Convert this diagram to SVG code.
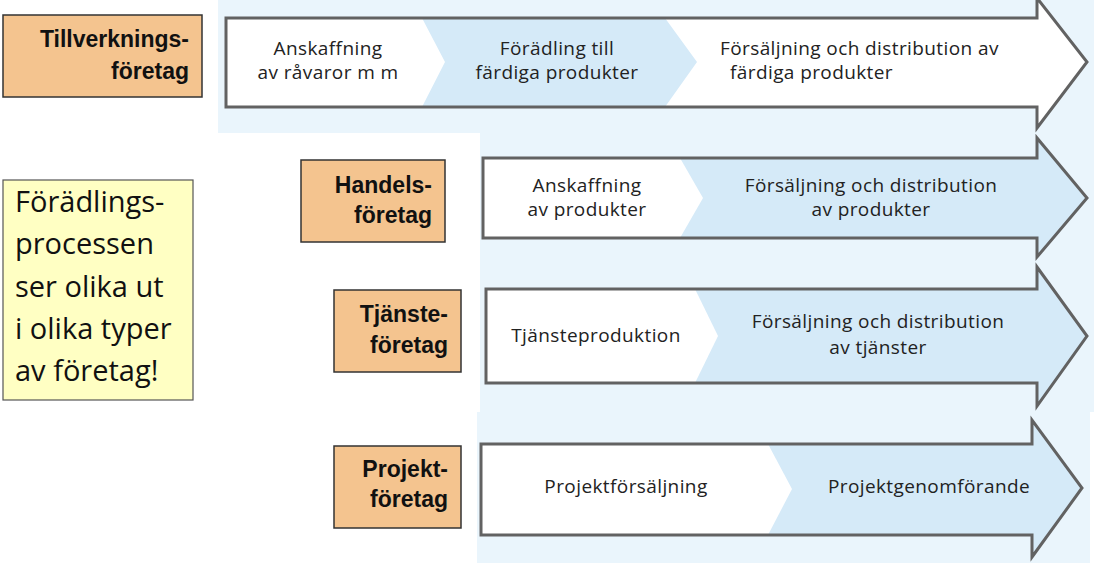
<svg xmlns="http://www.w3.org/2000/svg" width="1094" height="566" viewBox="0 0 1094 566">
<style>
.panel{fill:#eaf5fc}
.outline{fill:none;stroke:#626262;stroke-width:3;stroke-linejoin:miter}
.blue{fill:#d5eaf8}
.white{fill:#ffffff}
.lbl{fill:#f4c48f;stroke:#333;stroke-width:1.5}
.lt{font-family:"Liberation Sans",Arial,sans-serif;font-weight:bold;font-size:23px;fill:#111;text-anchor:end}
.at{font-family:"Open Sans","Noto Sans",sans-serif;font-size:19px;letter-spacing:0.4px;fill:#222;text-anchor:middle}
.yt{font-family:"Open Sans","Noto Sans",sans-serif;font-size:29px;fill:#111}
</style>
<rect width="1094" height="566" fill="#ffffff"/>
<g id="panels">
<rect class="panel" x="218" y="0" width="876" height="133"/>
<rect class="panel" x="480" y="133" width="614" height="279"/>
<rect class="panel" x="477" y="412" width="613" height="151"/>
</g>
<g id="connectors">
<g id="arrow1">
<path class="white" d="M226,18 H1037 V-2 L1087,62 L1037,128 V107 H226 Z"/>
<path class="blue" d="M422,18 H665 L697,62 L665,107 H422 L445,62 Z"/>
<path class="outline" d="M226,18 H1037 V-2 L1087,62 L1037,128 V107 H226 Z"/>
</g>
<g id="arrow2">
<path class="blue" d="M483,158 H1037 V138 L1087,198 L1037,257 V238 H483 Z"/>
<path class="white" d="M483,158 H680 L703,198 L680,238 H483 Z"/>
<path class="outline" d="M483,158 H1037 V138 L1087,198 L1037,257 V238 H483 Z"/>
</g>
<g id="arrow3">
<path class="blue" d="M486,289 H1037 V267 L1087,336 L1037,406 V383 H486 Z"/>
<path class="white" d="M486,289 H695 L718,336 L695,383 H486 Z"/>
<path class="outline" d="M486,289 H1037 V267 L1087,336 L1037,406 V383 H486 Z"/>
</g>
<g id="arrow4">
<path class="blue" d="M481,444 H1032 V420 L1082,488 L1032,557 V535 H481 Z"/>
<path class="white" d="M481,444 H768 L792,489 L768,535 H481 Z"/>
<path class="outline" d="M481,444 H1032 V420 L1082,488 L1032,557 V535 H481 Z"/>
</g>
</g>
<g id="step-texts">
<text class="at" x="328" y="55">Anskaffning</text>
<text class="at" x="328" y="79">av råvaror m m</text>
<text class="at" x="557" y="55">Förädling till</text>
<text class="at" x="557" y="79">färdiga produkter</text>
<text class="at" x="720" y="55" style="text-anchor:start">Försäljning och distribution av</text>
<text class="at" x="730" y="79" style="text-anchor:start">färdiga produkter</text>
<text class="at" x="587" y="192">Anskaffning</text>
<text class="at" x="587" y="216">av produkter</text>
<text class="at" x="871" y="192">Försäljning och distribution</text>
<text class="at" x="871" y="216">av produkter</text>
<text class="at" x="596" y="342">Tjänsteproduktion</text>
<text class="at" x="878" y="328">Försäljning och distribution</text>
<text class="at" x="878" y="354">av tjänster</text>
<text class="at" x="626" y="493">Projektförsäljning</text>
<text class="at" x="929" y="493">Projektgenomförande</text>
</g>
<g id="tillverkning">
<rect class="lbl" x="3" y="15" width="199" height="82"/>
<text class="lt" x="189" y="47">Tillverknings-</text>
<text class="lt" x="189" y="79">företag</text>
</g>
<g id="handel">
<rect class="lbl" x="301" y="160" width="144" height="82"/>
<text class="lt" x="432" y="193">Handels-</text>
<text class="lt" x="432" y="223">företag</text>
</g>
<g id="tjanste">
<rect class="lbl" x="334" y="290" width="127" height="82"/>
<text class="lt" x="448" y="322">Tjänste-</text>
<text class="lt" x="448" y="353">företag</text>
</g>
<g id="projekt">
<rect class="lbl" x="334" y="446" width="127" height="82"/>
<text class="lt" x="448" y="477">Projekt-</text>
<text class="lt" x="448" y="507">företag</text>
</g>
<g id="note">
<rect x="3" y="180" width="190" height="220" fill="#ffffc3" stroke="#555" stroke-width="1.2"/>
<text class="yt" x="15" y="212">Förädlings-</text>
<text class="yt" x="15" y="254">processen</text>
<text class="yt" x="15" y="297">ser olika ut</text>
<text class="yt" x="15" y="339">i olika typer</text>
<text class="yt" x="15" y="381">av företag!</text>
</g>
</svg>
